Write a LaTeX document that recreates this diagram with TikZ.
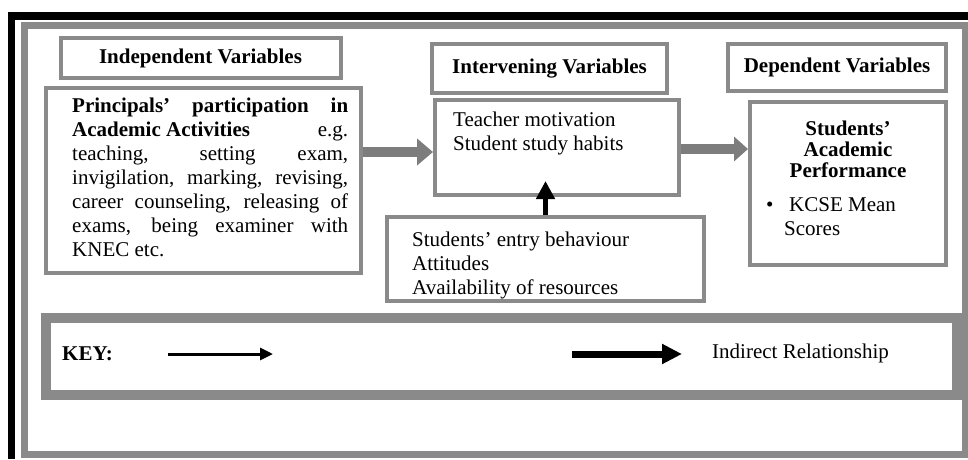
\documentclass[tikz,border=0pt]{standalone}
\usepackage{fontspec}
\setmainfont{Liberation Serif}
\usetikzlibrary{arrows.meta}
\definecolor{boxgray}{HTML}{8A8A8A}
\definecolor{arrowgray}{HTML}{7D7D7D}
\tikzset{
  varbox/.style={draw=boxgray, line width=4pt, inner sep=0pt},
  vartext/.style={inner sep=0pt, anchor=base west, align=left},
  grayarrow/.style={arrowgray, line width=10pt,
    -{Triangle[length=16pt, width=26pt]}},
  keyarrow/.style={black, line width=3pt, -{Triangle[length=13pt, width=12pt]}}
}
\begin{document}
\begin{tikzpicture}[x=1pt, y=-1pt, font=\fontsize{21}{24}\selectfont]
  \useasboundingbox (0,0) rectangle (968,459);
  % outer frame
  \fill[black] (8,12) rectangle (968,20);
  \fill[black] (8,12) rectangle (15,459);
  \draw[boxgray, line width=7pt] (24,25) rectangle (965,454);
  % headings
  \node[varbox, minimum width=280pt, minimum height=40pt] (indephead)
    at (200.5,58) {\textbf{Independent Variables}};
  \node[varbox, minimum width=235pt, minimum height=49pt] (intervhead)
    at (549.5,68.5) {\textbf{Intervening Variables}};
  \node[varbox, minimum width=218pt, minimum height=47pt] (dephead)
    at (837,67.5) {\textbf{Dependent Variables}};
  % boxes
  \node[varbox, minimum width=315pt, minimum height=185pt] (princ) at (203,180.5) {};
  \node[varbox, minimum width=244pt, minimum height=95pt] (motiv) at (557,147.5) {};
  \node[varbox, minimum width=196pt, minimum height=163pt] (perf) at (848,183.5) {};
  \node[varbox, minimum width=317pt, minimum height=84pt] (entry) at (545.5,259) {};
  % texts (base = last line)
  \node[vartext, text width=276pt, align=justify] (princtext) at (72,112)
    {\textbf{Principals' participation in}\linebreak
     \textbf{Academic Activities}\hfill e.g.\linebreak
     teaching, setting exam,\linebreak
     invigilation, marking, revising,\linebreak
     career counseling, releasing of\linebreak
     exams, being examiner with\linebreak
     KNEC etc.};
  \node[vartext] (motivtext) at (453,150)
    {Teacher motivation\\Student study habits};
  \node[vartext] (entrytext) at (412,294)
    {Students' entry behaviour\\Attitudes\\Availability of resources};
  \node[inner sep=0pt, anchor=base, align=center, font=\fontsize{21}{21}\selectfont\bfseries]
    (perftext) at (848,177) {Students'\\Academic\\Performance};
  \node[vartext] (kcse) at (766,235)
    {\makebox[23pt][l]{\textbullet}KCSE Mean\\\hspace*{18pt}Scores};
  % connectors
  \draw[grayarrow] (princ.east |- 0,152) -- (motiv.west |- 0,152);
  \draw[grayarrow, -{Triangle[length=14pt, width=24pt]}]
    (motiv.east |- 0,149) -- (perf.west |- 0,149);
  \draw[black, line width=5pt, -{Triangle[length=18pt, width=18pt]}]
    (entry.north) -- ++(0,-34);
  % key
  \node[draw=boxgray, line width=10pt, minimum width=911pt, minimum height=77pt]
    (keybox) at (501.5,356.5) {};
  \node[vartext] (keylabel) at (62,360) {\textbf{KEY:}};
  \coordinate (k1a) at (168,354);
  \coordinate (k1b) at (273,354);
  \draw[keyarrow] (k1a) -- (k1b);
  \coordinate (k2a) at (572,354);
  \coordinate (k2b) at (682,354);
  \draw[black, line width=7pt, -{Triangle[length=20pt, width=19pt]}] (k2a) -- (k2b);
  \node[vartext] (keytext) at (712,358) {Indirect Relationship};
\end{tikzpicture}
\end{document}
